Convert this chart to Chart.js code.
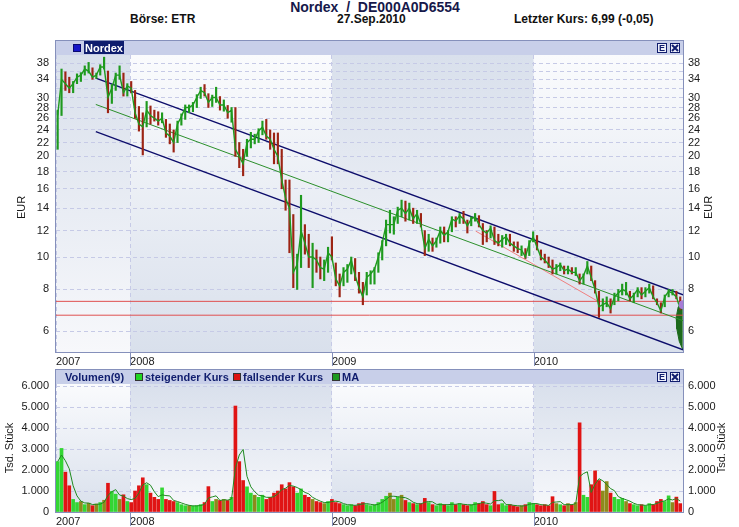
<!DOCTYPE html>
<html>
<head>
<meta charset="utf-8">
<script src="https://cdn.jsdelivr.net/npm/chart.js@4.4.1/dist/chart.umd.min.js"></script>
<style>
  body { margin: 0; background: #fff; width: 739px; height: 527px; position: relative; overflow: hidden; }
  canvas { position: absolute; left: 0; }
  #kurs { top: 0; }
  #vol { top: 369px; }
  .kopf { position: absolute; font-family: "Liberation Sans Narrow", "Liberation Sans", Arial, sans-serif; font-weight: bold; white-space: pre; color: #111; }
</style>
</head>
<body>
<div class="kopf" style="left:0;width:750px;text-align:center;top:-1px;font-size:14px;line-height:16px;color:#16184a">Nordex  /  DE000A0D6554</div>
<div class="kopf" style="left:130px;top:12px;font-size:12px;line-height:14px">Börse: ETR</div>
<div class="kopf" style="left:337px;top:12px;font-size:12px;line-height:14px">27.Sep.2010</div>
<div class="kopf" style="left:514px;top:12px;font-size:12px;line-height:14px">Letzter Kurs: 6,99 (-0,05)</div>
<canvas id="kurs" width="739" height="369"></canvas>
<canvas id="vol" width="739" height="158"></canvas>
<script>
// Wochenwerte Nordex (ETR)
const startWoche = '2007-08-23';
const achseVon = '2007-08-20';
const achseBis = '2010-09-28';
const jahresGrenzen = [2008, 2009, 2010];
const preisTicks = [6, 8, 10, 12, 14, 16, 18, 20, 22, 24, 26, 28, 30, 32, 34, 36, 38];
const ohneText = [32, 36];
const volTicks = [0, 1000, 2000, 3000, 4000, 5000, 6000];

const hoch = [
  27.5, 36.5, 35.8, 34.5, 33.5, 35.3, 35.6, 37.3, 38.2, 36.8,
  35.5, 37.6, 39.6, 36, 32.8, 35.5, 37.3, 35.5, 33, 33.5,
  31.5, 28.2, 27, 29.2, 28.3, 27.5, 27.2, 27, 25.8, 25,
  24, 25.5, 26.8, 28.5, 28.5, 29, 30.6, 32.2, 32.8, 30.8,
  30.5, 32.2, 30.2, 29.5, 28.4, 28, 28, 22, 21, 22.5,
  23.6, 23.3, 24.2, 25.5, 25.8, 24, 23.5, 23.5, 21, 17,
  17, 13.4, 10.2, 15.3, 12.5, 11.7, 11, 10.5, 10, 9.8,
  10.7, 11.5, 9.6, 8.9, 9.3, 9.5, 10, 9.9, 9, 8.4,
  9, 9.1, 9.3, 10.3, 11.2, 12.9, 13.8, 13.2, 14.1, 14.8,
  14.7, 14.5, 14, 13.8, 13.5, 12, 11.7, 11.4, 11.4, 12.3,
  12.3, 12, 13.2, 13.2, 13.5, 13.7, 12.9, 13.2, 13.5, 13.3,
  12.6, 12, 12.4, 12.3, 11.7, 11.6, 11.7, 11.7, 11.1, 11.1,
  10.8, 10.6, 11.2, 11.9, 11.6, 10.5, 10.2, 10, 9.8, 9.5,
  9.6, 9.4, 9.4, 9.3, 9.3, 8.9, 8.9, 9.7, 9.4, 8.5,
  7.9, 7.5, 7.6, 7.5, 7.8, 8, 8.3, 8.4, 7.9, 7.8,
  8.1, 8.1, 8.1, 8.3, 8.2, 7.5, 7.3, 7.7, 8, 8,
  7.9, 7.6
];
const tief = [
  21, 26.5, 31.5, 31, 31, 33, 33.5, 35, 35.5, 34,
  34.2, 35, 36.5, 27, 28.8, 31.5, 34, 30.3, 30.3, 31,
  26, 23.8, 20.2, 24.5, 25, 25.5, 24.8, 25.2, 22.8, 21.8,
  20.6, 22, 24.8, 25.8, 27, 27.2, 28, 29.8, 30.3, 28,
  28.2, 29, 27.5, 27.3, 26, 25.3, 20, 18.5, 17.5, 20,
  21.2, 21.8, 22, 23.2, 22.5, 21, 19, 19, 16, 13.8,
  10.3, 8.1, 8, 9.3, 10.2, 9.3, 8.1, 9, 8.6, 8.5,
  9, 9.8, 8.2, 7.6, 8.2, 8.4, 8.9, 8.5, 7.8, 7.2,
  7.7, 8.3, 8.3, 9, 9.8, 10.8, 11.8, 11.7, 12.6, 13.2,
  12.8, 12.9, 12.6, 12.6, 12.3, 10.1, 10.4, 10.4, 10.7, 11,
  11.1, 11.1, 11.9, 12.3, 12.6, 12.6, 11.8, 12.4, 12.8, 12.3,
  10.9, 11.1, 11.4, 10.9, 10.8, 10.7, 10.9, 10.8, 10.4, 10.3,
  10.1, 9.9, 10.1, 11.1, 10.5, 9.8, 9.6, 9.3, 8.9, 8.9,
  9.1, 8.9, 8.9, 8.9, 8.8, 8.3, 8.3, 8.9, 8.5, 7.8,
  6.6, 6.9, 7.1, 6.8, 7.2, 7.4, 7.7, 7.7, 7.4, 7.3,
  7.6, 7.5, 7.6, 7.8, 7.5, 7.2, 6.8, 7.1, 7.6, 7.7,
  7.5, 6.95
];
const schluss = [
  26.5, 34, 33, 32, 33, 34.5, 35, 36.5, 36, 34.5,
  35, 37, 37, 30, 32, 35, 35, 31, 32.5, 32,
  27, 25, 24.5, 27.5, 26.5, 26, 25.5, 26, 23.5, 23,
  22, 25, 26.3, 28, 28, 28.5, 30, 31.5, 31, 29,
  30, 30, 28.5, 28.5, 27, 27.5, 21, 20, 19, 22,
  22.5, 22.5, 23.8, 24.5, 23, 22.5, 21, 20, 17, 15,
  14, 9, 9.5, 12, 11, 10, 10, 9.8, 9.3, 9.2,
  10.3, 10, 8.6, 8.2, 9, 9.2, 9.8, 8.8, 8.1, 7.6,
  8.7, 8.9, 9.2, 10, 11, 12.5, 12.5, 12.5, 13.8, 14,
  13.5, 14, 13, 13.5, 12.5, 10.6, 11.3, 10.8, 11.2, 12,
  11.6, 11.9, 13, 12.8, 13.3, 13, 12.4, 13, 13.2, 12.5,
  12, 11.8, 12.2, 11.2, 11, 11.3, 11.5, 11, 10.8, 10.6,
  10.5, 10, 11, 11.5, 10.7, 10, 9.8, 9.5, 9.2, 9.3,
  9.5, 9.1, 9.2, 9, 9, 8.5, 8.8, 9.4, 8.7, 8,
  7.1, 7.2, 7.3, 7, 7.6, 7.8, 8, 7.9, 7.5, 7.7,
  8, 7.7, 7.9, 8.1, 7.6, 7.3, 6.9, 7.6, 7.9, 7.8,
  7.6, 6.99
];
// Tsd. Stück
const volumen = [
  2400, 3030, 1900, 1250, 600, 450, 500, 350, 420, 300,
  380, 450, 560, 1370, 980, 850, 600, 820, 500, 450,
  1000, 1250, 1630, 1300, 900, 700, 600, 1150, 600, 550,
  500, 450, 350, 300, 300, 280, 300, 350, 450, 1210,
  500, 600, 550, 600, 550, 700, 5050, 2400, 1500, 1200,
  900, 800, 700, 800, 600, 700, 900, 1000, 1300, 1100,
  1400, 1200, 900, 1100, 800, 700, 600, 500, 450, 400,
  500, 600, 450, 400, 350, 300, 350, 300, 400, 450,
  350, 300, 350, 450, 600, 750, 900, 600, 700, 800,
  550, 450, 400, 350, 400, 650, 450, 350, 300, 400,
  350, 300, 450, 350, 400, 350, 300, 350, 450, 400,
  500, 350, 300, 980, 350, 400, 300, 350, 300, 250,
  300, 350, 450, 400, 350, 300, 350, 300, 730, 400,
  350, 300, 400, 350, 450, 4250, 800, 700, 1300, 1960,
  1500, 1000, 1450, 900, 700, 600, 650, 500, 400, 350,
  300, 350, 300, 400, 350, 500, 600, 500, 770, 450,
  710, 400
];

// Trendkanal (Anfang / Ende)
const kanalDaten = ['2007-10-31', '2010-09-28'];
const kanalOben = [34.3, 7.71];
const kanalMitte = [28.6, 6.45];
const kanalUnten = [23.7, 5.28];
const rotDaten = ['2009-09-18', '2010-04-26'];
const rotWerte = [11.96, 7.39];
const linienRot = [7.37, 6.70];
// Fächer am rechten Rand
const faecherJahr = [2010.738, 2010.716, 2010.706, 2010.709, 2010.721, 2010.738];
const faecherWert = [7.3, 7.09, 6.61, 6.1, 5.6, 5.3];
const markeWert = 7.2;

const SCHRIFT = '"Liberation Sans", Arial, sans-serif';
const GITTER = '#c6cae6';
const RAHMEN = '#8590bb';
const NAVY = '#101d6e';

function jahr(s) {
  const t = typeof s === 'number' ? s : Date.parse(s + 'T00:00:00Z');
  const y = new Date(t).getUTCFullYear();
  const a = Date.UTC(y, 0, 1), b = Date.UTC(y + 1, 0, 1);
  return y + (t - a) / (b - a);
}
const t0 = Date.parse(startWoche + 'T00:00:00Z');
const wocheX = schluss.map((_, i) => jahr(t0 + i * 7 * 864e5));
const aenderung = schluss.map((c, i) => i === 0 ? 1 : (c - schluss[i - 1]) / schluss[i - 1]);
const xMin = jahr(achseVon), xMax = jahr(achseBis);

const maFenster = 3;
const volMA = volumen.map((_, i) => {
  const t = volumen.slice(Math.max(0, i - maFenster + 1), i + 1);
  return t.reduce((s, v) => s + v, 0) / t.length;
});

Chart.defaults.font.family = SCHRIFT;
Chart.defaults.font.size = 11;
Chart.defaults.color = '#1a1a1a';

function senkrecht(ctx, text, x, y) {
  ctx.save();
  ctx.translate(x, y);
  ctx.rotate(-Math.PI / 2);
  ctx.textAlign = 'center';
  ctx.textBaseline = 'middle';
  ctx.fillText(text, 0, 0);
  ctx.restore();
}

function knoepfe(ctx, r, y) {
  ctx.lineWidth = 1;
  ctx.strokeStyle = NAVY;
  ctx.fillStyle = '#eef0fa';
  ctx.fillRect(r - 26, y, 10, 10);
  ctx.strokeRect(r - 25.5, y + 0.5, 9, 9);
  ctx.fillStyle = NAVY;
  ctx.font = 'bold 9px ' + SCHRIFT;
  ctx.textAlign = 'center';
  ctx.textBaseline = 'middle';
  ctx.fillText('E', r - 21, y + 5.5);
  ctx.fillStyle = '#eef0fa';
  ctx.fillRect(r - 13, y, 10, 10);
  ctx.strokeRect(r - 12.5, y + 0.5, 9, 9);
  ctx.lineWidth = 2;
  ctx.beginPath();
  ctx.moveTo(r - 11, y + 2); ctx.lineTo(r - 5, y + 8);
  ctx.moveTo(r - 5, y + 2); ctx.lineTo(r - 11, y + 8);
  ctx.stroke();
}

function panelDeko(cfg) {
  return {
    id: 'panelDeko',
    beforeDraw(chart) {
      const { ctx, chartArea: a, scales: { x } } = chart;
      const grenzen = [x.min, ...jahresGrenzen, x.max];
      ctx.save();
      for (let i = 0; i < grenzen.length - 1; i++) {
        const x0 = x.getPixelForValue(grenzen[i]);
        const x1 = x.getPixelForValue(grenzen[i + 1]);
        const g = ctx.createLinearGradient(0, a.top, 0, a.bottom);
        const dunkelOben = (i % 2 === 0) !== cfg.umgekehrt;
        g.addColorStop(0, dunkelOben ? '#d9e0ec' : '#fafbfd');
        g.addColorStop(1, dunkelOben ? '#f7f8fb' : '#d9e0ec');
        ctx.fillStyle = g;
        ctx.fillRect(x0, a.top, x1 - x0, a.bottom - a.top);
      }
      ctx.restore();
    },
    afterDraw(chart) {
      const { ctx, chartArea: a, scales: { x } } = chart;
      ctx.save();
      ctx.fillStyle = '#c8cfe9';
      ctx.fillRect(a.left, a.top - 14, a.right - a.left, 14);
      ctx.strokeStyle = RAHMEN;
      ctx.lineWidth = 1;
      ctx.strokeRect(a.left - 0.5, a.top - 14.5, a.right - a.left + 1, a.bottom - a.top + 15);
      ctx.beginPath();
      jahresGrenzen.forEach(j => {
        const px = Math.round(x.getPixelForValue(j)) + 0.5;
        ctx.moveTo(px, a.bottom);
        ctx.lineTo(px, a.bottom + 14);
      });
      ctx.stroke();
      cfg.kopf(ctx, a);
      knoepfe(ctx, a.right, a.top - 12);
      ctx.fillStyle = '#1a1a1a';
      ctx.font = '11px ' + SCHRIFT;
      const my = (a.top + a.bottom) / 2 + cfg.titelVersatz;
      senkrecht(ctx, cfg.titel, cfg.titelLinks, my);
      senkrecht(ctx, cfg.titel, cfg.titelRechts, my);
      ctx.restore();
    }
  };
}

function xAchse(hoehe) {
  return {
    type: 'linear', min: xMin, max: xMax, offset: false,
    afterBuildTicks: s => { s.ticks = [xMin, ...jahresGrenzen].map(v => ({ value: v })); },
    afterFit: s => { s.height = hoehe; },
    grid: { color: GITTER, drawTicks: false, offset: false },
    border: { display: false, dash: [4, 3] },
    ticks: { align: 'start', padding: 3, autoSkip: false, maxRotation: 0, color: '#1a1a1a',
      callback: v => String(Math.floor(v)) }
  };
}

function preisAchse(pos) {
  return {
    type: 'logarithmic', position: pos, min: 5.2, max: 40.2,
    afterBuildTicks: s => { s.ticks = preisTicks.map(v => ({ value: v })); },
    afterFit: s => { s.width = 56; },
    grid: { display: pos === 'left', color: GITTER, drawTicks: false },
    border: { display: false, dash: [4, 3] },
    ticks: { padding: pos === 'left' ? 7 : 5, color: '#1a1a1a',
      callback: v => ohneText.includes(v) ? '' : String(v) }
  };
}

function volAchse(pos) {
  return {
    type: 'linear', position: pos, min: 0, max: 6100,
    afterBuildTicks: s => { s.ticks = volTicks.map(v => ({ value: v })); },
    afterFit: s => { s.width = 56; },
    grid: { display: pos === 'left', color: GITTER, drawTicks: false },
    border: { display: false, dash: [4, 3] },
    ticks: { padding: pos === 'left' ? 7 : 5, color: '#1a1a1a',
      callback: v => v === 0 ? '0' : (v / 1000) + '.000' }
  };
}

const punkte = (xs, ys) => xs.map((d, i) => ({ x: typeof d === 'string' ? jahr(d) : d, y: ys[i] }));
const linie = (data, farbe, breite, order) => ({
  type: 'line', data, borderColor: farbe, borderWidth: breite, pointRadius: 0, order
});

// Kurschart
new Chart(document.getElementById('kurs'), {
  type: 'bar',
  data: {
    datasets: [
      {
        type: 'line', data: punkte(faecherJahr, faecherWert), fill: 'shape',
        backgroundColor: '#1c6a1c', borderColor: '#1c6a1c', borderWidth: 1, pointRadius: 0, order: 6
      },
      linie(punkte([achseVon, achseBis], [linienRot[0], linienRot[0]]), '#e05050', 1, 5),
      linie(punkte([achseVon, achseBis], [linienRot[1], linienRot[1]]), '#e05050', 1, 5),
      linie(punkte(kanalDaten, kanalOben), '#0d0d6b', 1.3, 4),
      linie(punkte(kanalDaten, kanalMitte), '#2b8f2b', 1, 4),
      linie(punkte(kanalDaten, kanalUnten), '#0d0d6b', 1.3, 4),
      linie(punkte(rotDaten, rotWerte), '#f08080', 1, 4),
      {
        type: 'bar', order: 2, barThickness: 1.5,
        data: wocheX.map((x, i) => ({ x, y: [tief[i], hoch[i]] })),
        backgroundColor: aenderung.map(d => d < -0.015 ? '#9c2414' : '#1e9a1e')
      },
      linie(wocheX.map((x, i) => ({ x, y: schluss[i] })), '#1e9a1e', 1.4, 1),
      {
        type: 'line', data: [{ x: xMax, y: markeWert }], pointRadius: 4,
        pointBackgroundColor: '#a77bd6', pointBorderColor: '#a77bd6', showLine: false, order: 0
      }
    ]
  },
  options: {
    responsive: false, animation: false, events: [],
    layout: { padding: { top: 55, left: 0, right: 0, bottom: 0 } },
    plugins: { legend: { display: false }, tooltip: { enabled: false } },
    scales: { x: xAchse(17), y: preisAchse('left'), y2: preisAchse('right') }
  },
  plugins: [panelDeko({
    umgekehrt: false, titel: 'EUR', titelLinks: 22, titelRechts: 709, titelVersatz: 4,
    kopf: (ctx, a) => {
      ctx.fillStyle = '#1616c8';
      ctx.fillRect(74, a.top - 10, 6, 6);
      ctx.strokeStyle = '#0a0a70';
      ctx.strokeRect(73.5, a.top - 10.5, 7, 7);
      ctx.fillStyle = '#0e1d6e';
      ctx.fillRect(84, a.top - 14, 40, 13);
      ctx.fillStyle = '#fff';
      ctx.font = 'bold 11px ' + SCHRIFT;
      ctx.textBaseline = 'alphabetic';
      ctx.textAlign = 'left';
      ctx.fillText('Nordex', 85, a.top - 3.5);
    }
  })]
});

// Volumen
new Chart(document.getElementById('vol'), {
  type: 'bar',
  data: {
    datasets: [
      linie(wocheX.map((x, i) => ({ x, y: volMA[i] })), '#1f8a1f', 1, 0),
      {
        type: 'bar', order: 1, barThickness: 3,
        data: wocheX.map((x, i) => ({ x, y: volumen[i] })),
        backgroundColor: aenderung.map(d => d > 0.015 ? '#33d633' : d < -0.015 ? '#e01414' : '#8e8a1c')
      }
    ]
  },
  options: {
    responsive: false, animation: false, events: [],
    layout: { padding: { top: 15, left: 0, right: 0, bottom: 0 } },
    plugins: { legend: { display: false }, tooltip: { enabled: false } },
    scales: { x: xAchse(15), y: volAchse('left'), y2: volAchse('right') }
  },
  plugins: [panelDeko({
    umgekehrt: true, titel: 'Tsd. Stück', titelLinks: 10, titelRechts: 722, titelVersatz: 0,
    kopf: (ctx, a) => {
      const b = a.top - 3.5;
      ctx.font = 'bold 11px ' + SCHRIFT;
      ctx.textBaseline = 'alphabetic';
      ctx.textAlign = 'left';
      ctx.fillStyle = NAVY;
      ctx.fillText('Volumen(9)', 65, b);
      const legende = [[136, '#22d622', 'steigender Kurs'], [234, '#dd1111', 'fallsender Kurs'], [333, '#1f9a1f', 'MA']];
      legende.forEach(([lx, farbe, text]) => {
        ctx.fillStyle = farbe;
        ctx.fillRect(lx, a.top - 10, 6, 6);
        ctx.strokeStyle = '#333';
        ctx.strokeRect(lx - 0.5, a.top - 10.5, 7, 7);
        ctx.fillStyle = NAVY;
        ctx.fillText(text, lx + 9, b);
      });
    }
  })]
});
</script>
</body>
</html>
